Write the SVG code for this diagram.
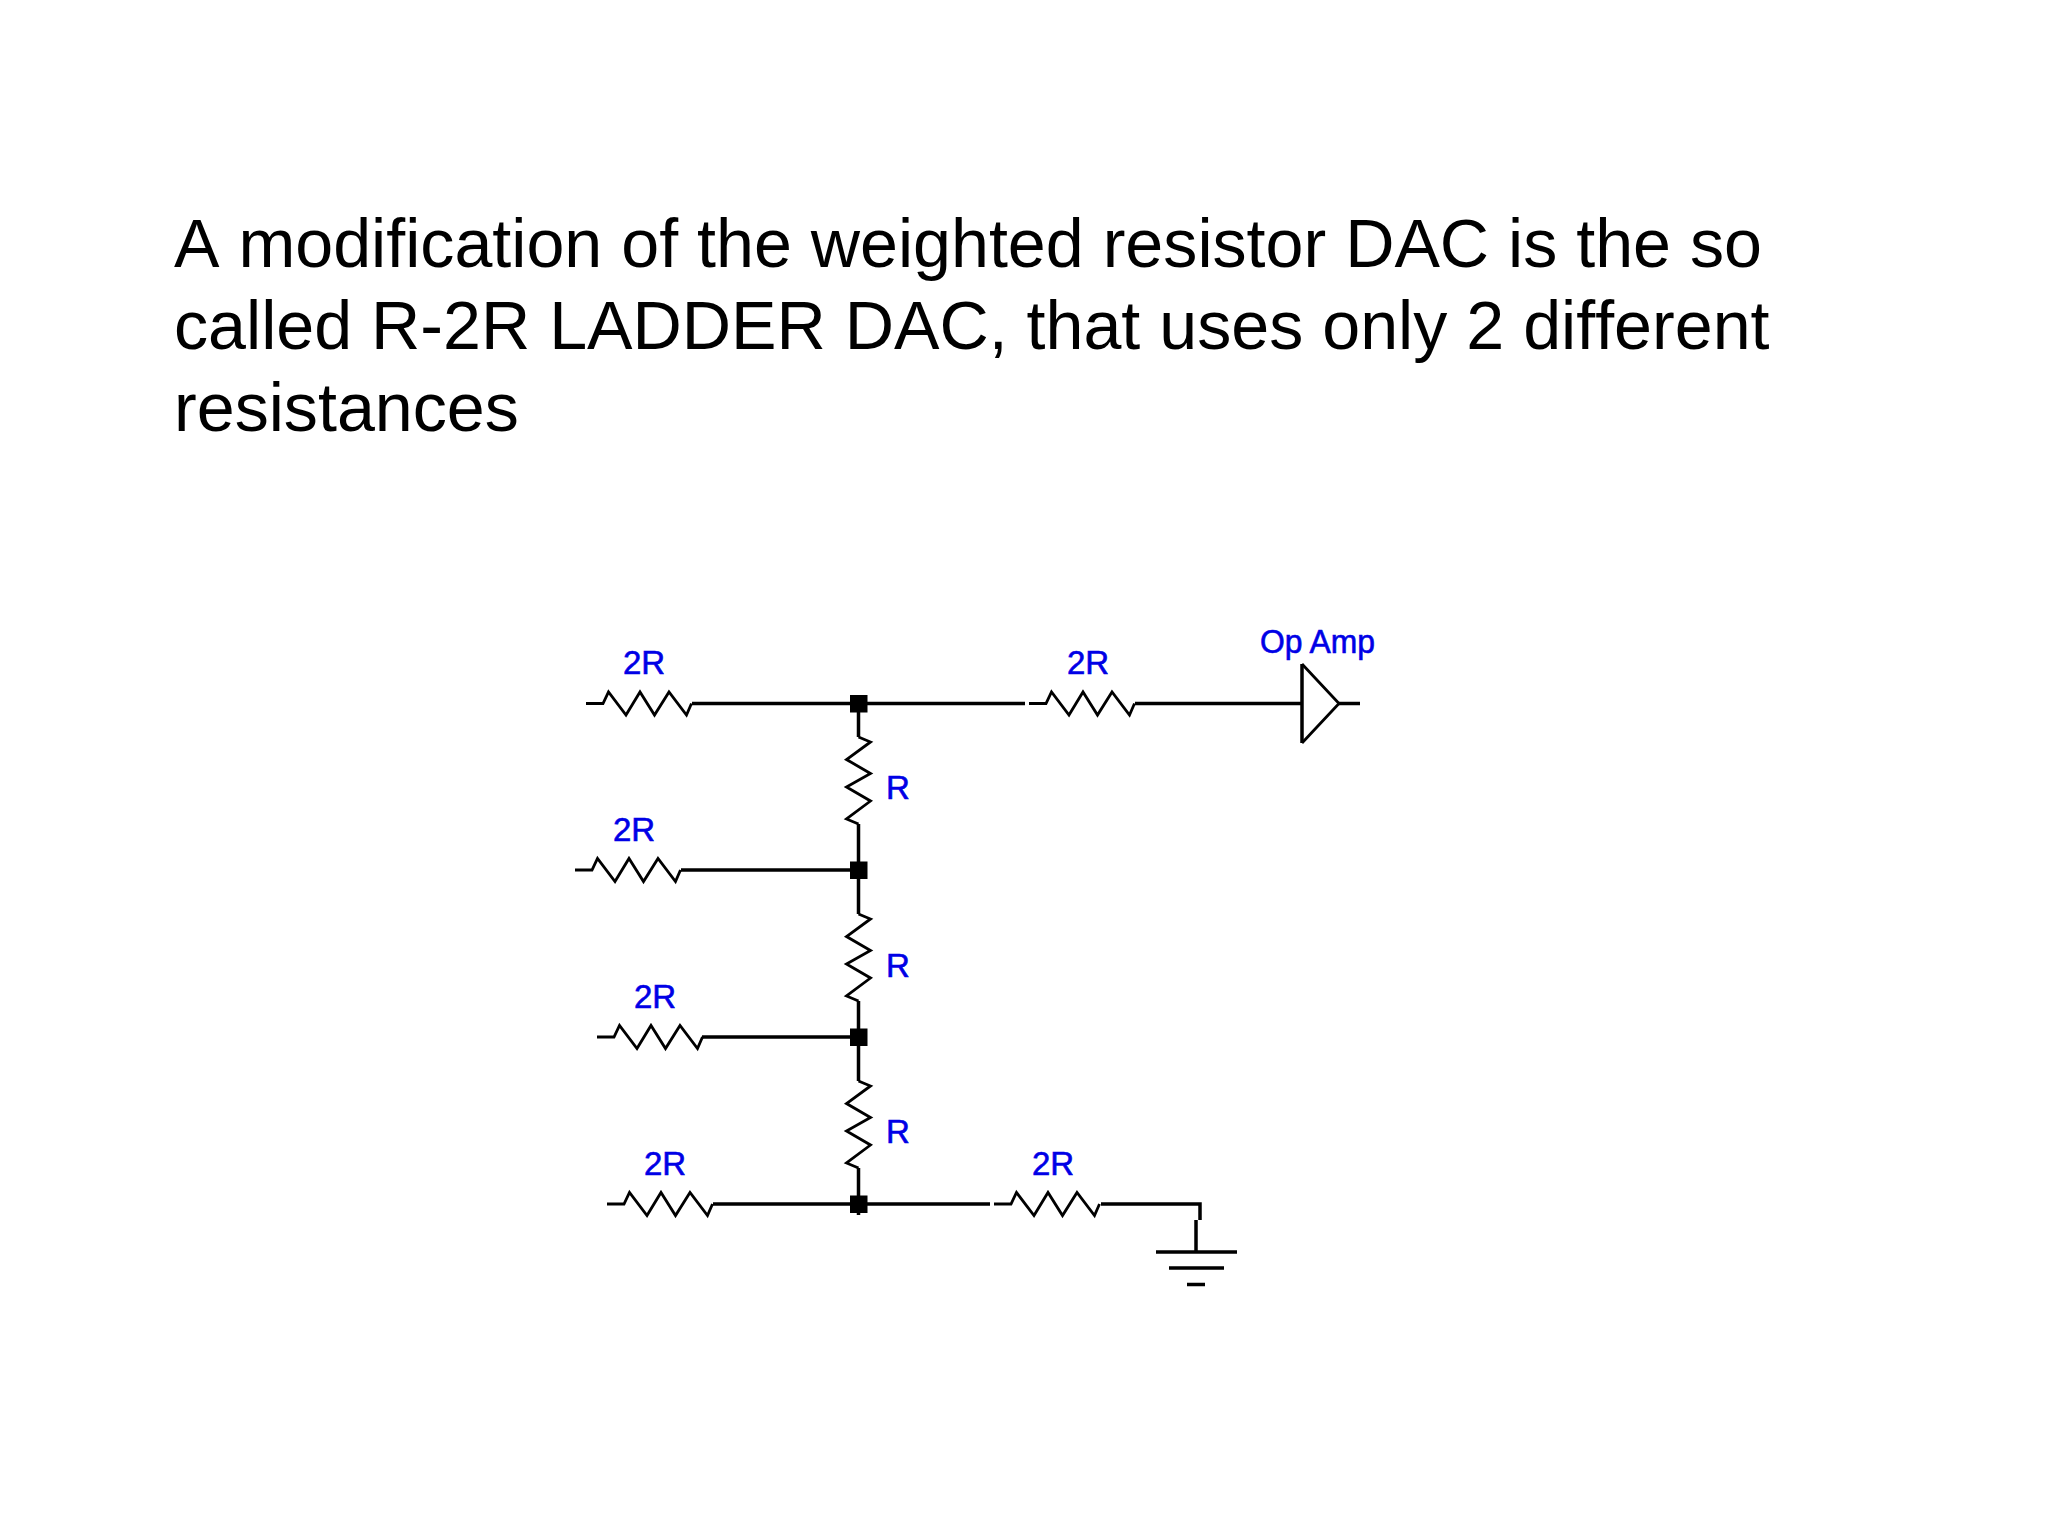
<svg xmlns="http://www.w3.org/2000/svg" width="2048" height="1536" viewBox="0 0 2048 1536">
<style>
.w{fill:none;stroke:#000;stroke-width:3.5}
.z{fill:none;stroke:#000;stroke-width:2.8}
.t{font-family:"Liberation Sans",Arial,sans-serif;font-size:68.2px;fill:#000;font-kerning:none;font-variant-ligatures:none}
.l{font-family:"Liberation Sans",Arial,sans-serif;font-size:33px;fill:#0000e6;stroke:#0000e6;stroke-width:.6}
.n{fill:#000}
</style>
<defs>
<path id="rh" class="z" d="M0 0H17L22.500 -11.500L40 11.500L54 -11.500L68.500 11.500L83 -11.500L100.500 11.500L105.500 0"/>
<path id="rv" class="z" d="M0 0L12 5L-12 22.500L12 36.500L-12 50L12 64L-12 82L0 87"/>
<rect id="dot" class="n" x="-8.500" y="-8.500" width="17.500" height="17.500"/>
</defs>
<rect width="2048" height="1536" fill="#fff"/>
<g id="title">
<text class="t" x="174" y="267">A modification of the weighted resistor DAC is the so</text>
<text class="t" x="174" y="349">called R-2R LADDER DAC, that uses only 2 different</text>
<text class="t" x="174" y="431">resistances</text>
</g>
<g id="connectors">
<path class="w" d="M692 703.500H1025"/>
<path class="w" d="M1135 703.500H1302"/>
<path class="w" d="M681 870H858"/>
<path class="w" d="M702 1037H858"/>
<path class="w" d="M713 1204H990"/>
<path class="w" d="M1101 1204H1200V1220M1196 1220V1252"/>
<path class="w" d="M858.500 703V737M858.500 824V914M858.500 1001V1081M858.500 1168V1215"/>
</g>
<g id="r-in-1"><use href="#rh" x="586" y="703.500"/><text class="l" x="623" y="674">2R</text></g>
<g id="r-in-2"><use href="#rh" x="575" y="870"/><text class="l" x="613" y="841">2R</text></g>
<g id="r-in-3"><use href="#rh" x="597" y="1037"/><text class="l" x="634" y="1008">2R</text></g>
<g id="r-in-4"><use href="#rh" x="607" y="1204"/><text class="l" x="644" y="1175">2R</text></g>
<g id="r-out"><use href="#rh" x="1029" y="703.500"/><text class="l" x="1067" y="674">2R</text></g>
<g id="r-gnd"><use href="#rh" x="994" y="1204"/><text class="l" x="1032" y="1175">2R</text></g>
<g id="r-v1"><use href="#rv" x="858.500" y="737"/><text class="l" x="886" y="799">R</text></g>
<g id="r-v2"><use href="#rv" x="858.500" y="914"/><text class="l" x="886" y="977">R</text></g>
<g id="r-v3"><use href="#rv" x="858.500" y="1081"/><text class="l" x="886" y="1143">R</text></g>
<g id="node-1"><use href="#dot" x="858.500" y="703.500"/></g>
<g id="node-2"><use href="#dot" x="858.500" y="870"/></g>
<g id="node-3"><use href="#dot" x="858.500" y="1037"/></g>
<g id="node-4"><use href="#dot" x="858.500" y="1204"/></g>
<g id="opamp">
<path class="w" d="M1302 664V743"/>
<path class="z" d="M1302 664L1339 703.500L1302 743"/>
<path class="w" d="M1339 703.500H1360"/>
<text class="l" x="1260" y="653" textLength="115" lengthAdjust="spacingAndGlyphs">Op Amp</text>
</g>
<g id="ground">
<path class="w" d="M1156 1252H1237M1169 1268H1224M1187 1284.500H1205"/>
</g>
</svg>
